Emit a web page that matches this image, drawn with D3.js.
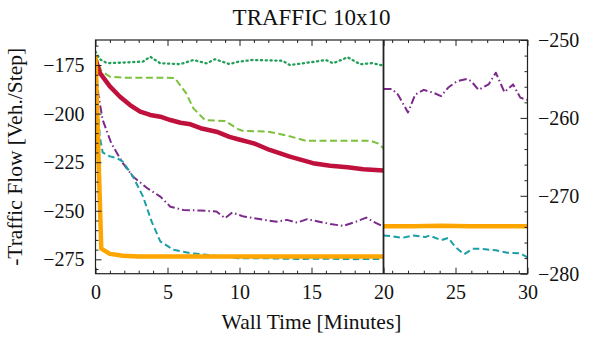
<!DOCTYPE html>
<html>
<head>
<meta charset="utf-8">
<script src="https://cdn.jsdelivr.net/npm/d3@7"></script>
<style>
  body { margin: 0; background: #fff; }
  svg { display: block; }
  text { font-family: "Liberation Serif", "DejaVu Serif", serif; fill: #111; }
</style>
</head>
<body>
<svg id="chart" width="594" height="340"></svg>
<script>
// --- data (minutes, -traffic flow) ---
var greenDotted = [[0,-168],[0.3,-172],[0.8,-174],[1.7,-173.8],[2.5,-173.5],[3.3,-173.2],[3.8,-170.7],[4.5,-174.1],
  [5.9,-174.5],[6.8,-172.4],[7.7,-174.1],[8.3,-172],[9.3,-174.5],[9.9,-173.3],[10.9,-172.4],[12,-172.6],[13,-172.8],
  [13.5,-175],[14.7,-173.8],[16,-172.4],[16.5,-174.1],[17.5,-171],[18.4,-174.6],[19.2,-174],[20,-175.3]];
var greenDashed = [[0,-170],[0.4,-178],[1,-181],[2,-181.5],[5.5,-181.6],[6.3,-189.6],[6.8,-197.3],[7.6,-203.3],
  [9,-203.8],[9.9,-208],[10.2,-208.8],[12,-209.3],[13.3,-211.3],[14,-212.7],[14.6,-214],[19.1,-214],[19.6,-215.3],[20,-217.8]];
var red = [[0,-172],[0.3,-179],[1,-186],[1.7,-191.3],[2.4,-195.6],[3.1,-199],[3.8,-200.7],[4.5,-201.6],[5.2,-203.3],
  [5.9,-204.7],[6.6,-205.5],[7.3,-207.5],[8.4,-209.3],[9.3,-212],[9.9,-213.2],[11,-215.3],[12.1,-218.7],[13.5,-222.1],
  [15.1,-225.5],[16.3,-226.8],[17.5,-227.6],[18.6,-228.6],[20,-229.3]];
var purple = [[0,-172],[0.2,-190.4],[0.5,-203.3],[1.1,-215.3],[1.9,-225.5],[2.6,-232.4],[3.6,-238.4],[4.5,-242.7],
  [5.2,-247.9],[6.1,-249.6],[7.3,-249.9],[8.4,-250.4],[9,-253.8],[9.5,-250.9],[10.3,-253],[11.7,-254.7],[12.6,-255.6],
  [13.3,-254.7],[14,-256.1],[14.7,-254.3],[15.8,-256.1],[16.3,-256.8],[17.2,-257.8],[18.1,-255.6],[18.8,-253.5],
  [19.5,-256.4],[20,-258.1]];
var teal = [[0,-172],[0.2,-201],[0.3,-212],[0.5,-220],[1,-222],[1.5,-223],[1.9,-224.7],[2.6,-232.4],[3.3,-242.7],
  [3.9,-255.6],[4.5,-265.8],[5.4,-270.1],[6.6,-271.8],[7.7,-272.7],[8.9,-273.6],[9.9,-274.4],[12,-274.5],[14,-274.8],
  [16,-274.7],[18,-274.9],[20,-274.8]];
var orange = [[0,-170],[0.4,-269.5],[1,-272.2],[1.9,-273.2],[3,-273.6],[8,-273.5],[14,-273.6],[20,-273.6]];

// right panel (20-30 min, right axis)
var purpleR = [[20,-256.3],[20.6,-256.3],[21,-257],[21.7,-259.3],[22.2,-257],[22.8,-256.4],[23.5,-256.8],[24,-257.2],
  [24.5,-256.1],[25.1,-255.3],[25.8,-255],[26.1,-255.3],[26.6,-256.4],[27.3,-255.7],[27.8,-254.2],[28.4,-256.7],
  [29,-255.7],[29.5,-257.4],[30,-257.7]];
var tealR = [[20,-275.1],[20.6,-275.2],[21.3,-275.4],[22.1,-275.1],[22.9,-275.3],[23.2,-275.1],[24,-275.7],[24.5,-275.4],
  [25,-276.6],[25.6,-277.5],[26.2,-276.8],[26.7,-276.8],[27.8,-277],[28.6,-277.3],[29.5,-277.4],[30,-277.9]];
var orangeR = [[20,-273.9],[22,-273.9],[24,-273.85],[26,-273.9],[28,-273.9],[30,-273.9]];

var xMajor = [0, 5, 10, 15, 20, 25, 30];
var xMinorLeft = d3.range(1, 20).filter(function (d) { return d % 5 !== 0; });
var xMinorRight = [20.6, 21.7, 22.8, 23.9, 26.1, 27.2, 28.3, 29.4];
var yLeftMajor = [-175, -200, -225, -250, -275];
var yLeftMinor = d3.range(-280, -160, 5).filter(function (d) { return d % 25 !== 0; });
var yRightMajor = [-250, -260, -270, -280];
var yRightMinor = [-252, -254, -256, -258, -262, -264, -266, -268, -272, -274, -276, -278];

var series = [
  {left: greenDotted, right: null, color: "#22a05a", width: 2.3, dash: "1.2,3.6", cap: "round"},
  {left: greenDashed, right: null, color: "#7cc13c", width: 2, dash: "7,3.5", cap: "butt"},
  {left: red, right: null, color: "#c0113c", width: 4.5, dash: null, cap: "butt"},
  {left: purple, right: purpleR, color: "#7b2a8c", width: 2, dash: "8,3,1.5,3", cap: "butt"},
  {left: teal, right: tealR, color: "#1a9fa6", width: 2, dash: "6.5,3.5", cap: "butt"},
  {left: orange, right: orangeR, color: "#ffa500", width: 4.5, dash: null, cap: "butt"}
];

var svg = d3.select("#chart");
var plotTop = 40, plotBottom = 273.7;
var x = d3.scaleLinear().domain([0, 30]).range([95.5, 527.5]);
var yLeft = d3.scaleLinear().domain([-282.4, -162.1]).range([plotBottom, plotTop]);
var yRight = d3.scaleLinear().domain([-280, -250]).range([plotBottom, plotTop]);

var defs = svg.append("defs");
defs.append("clipPath").attr("id", "clipL").append("rect")
  .attr("x", x(0)).attr("y", plotTop).attr("width", x(20) - x(0)).attr("height", plotBottom - plotTop);
defs.append("clipPath").attr("id", "clipR").append("rect")
  .attr("x", x(20)).attr("y", plotTop).attr("width", x(30) - x(20)).attr("height", plotBottom - plotTop);

// lines
var gL = svg.append("g").attr("clip-path", "url(#clipL)");
var gR = svg.append("g").attr("clip-path", "url(#clipR)");
var lineL = d3.line().x(function (d) { return x(d[0]); }).y(function (d) { return yLeft(d[1]); });
var lineR = d3.line().x(function (d) { return x(d[0]); }).y(function (d) { return yRight(d[1]); });

series.forEach(function (s) {
  [[gL, s.left, lineL], [gR, s.right, lineR]].forEach(function (p) {
    if (!p[1]) return;
    p[0].append("path")
      .attr("d", p[2](p[1]))
      .attr("fill", "none")
      .attr("stroke", s.color)
      .attr("stroke-width", s.width)
      .attr("stroke-linejoin", "round")
      .attr("stroke-linecap", s.cap)
      .attr("stroke-dasharray", s.dash);
  });
});

// axes helper
function drawAxis(axis, tx, ty, size, pad, values, labels, fontSize) {
  var g = svg.append("g")
    .attr("transform", "translate(" + tx + "," + ty + ")")
    .call(axis.tickValues(values).tickSizeInner(-size).tickSizeOuter(0).tickPadding(pad)
      .tickFormat(labels ? function (d) { return d3.format("")(d).replace("-", "\u2212"); } : function () { return ""; }));
  g.select(".domain").remove();
  g.selectAll(".tick line").attr("stroke", "#222").attr("stroke-width", 1);
  g.selectAll("text").attr("font-size", fontSize || 20).attr("fill", "#111")
    .style("font-family", "'Liberation Serif', serif");
  return g;
}

// bottom & top x axes
drawAxis(d3.axisBottom(x), 0, plotBottom, 6, 11, xMajor, true);
drawAxis(d3.axisBottom(x), 0, plotBottom, 3, 0, xMinorLeft.concat(xMinorRight), false);
drawAxis(d3.axisTop(x), 0, plotTop, 6, 0, xMajor, false);
drawAxis(d3.axisTop(x), 0, plotTop, 3, 0, xMinorLeft.concat(xMinorRight), false);

// left y axis
drawAxis(d3.axisLeft(yLeft), x(0), 0, 6, 11, yLeftMajor, true);
drawAxis(d3.axisLeft(yLeft), x(0), 0, 3, 0, yLeftMinor, false);

// right y axis
drawAxis(d3.axisRight(yRight), x(30), 0, 7, 10.5, yRightMajor, true);
drawAxis(d3.axisRight(yRight), x(30), 0, 3, 0, yRightMinor, false);

// frames
svg.append("rect")
  .attr("x", x(0)).attr("y", plotTop).attr("width", x(30) - x(0)).attr("height", plotBottom - plotTop)
  .attr("fill", "none").attr("stroke", "#222").attr("stroke-width", 1.2);
svg.append("line")
  .attr("x1", x(20)).attr("x2", x(20)).attr("y1", plotTop).attr("y2", plotBottom)
  .attr("stroke", "#222").attr("stroke-width", 1.8);

// titles
svg.append("text")
  .attr("x", (x(0) + x(30)) / 2).attr("y", 25)
  .attr("text-anchor", "middle").attr("font-size", 23)
  .text("TRAFFIC 10x10");
svg.append("text")
  .attr("x", (x(0) + x(30)) / 2).attr("y", 329)
  .attr("text-anchor", "middle").attr("font-size", 21.5)
  .text("Wall Time [Minutes]");
svg.append("text")
  .attr("transform", "translate(22," + ((plotTop + plotBottom) / 2) + ") rotate(-90)")
  .attr("text-anchor", "middle").attr("font-size", 21.5)
  .text("-Traffic Flow [Veh./Step]");
</script>
</body>
</html>
